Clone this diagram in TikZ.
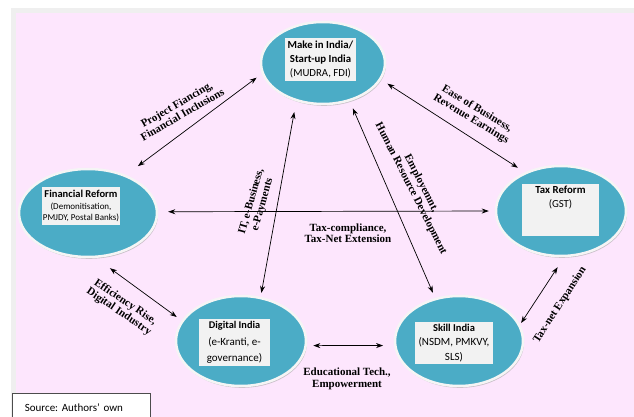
\documentclass[tikz,border=0pt]{standalone}
\usepackage{fontspec}
\setmainfont{Liberation Serif}
\newfontfamily\calfont{Carlito}
\usepackage{xcolor}
\usepackage{tikz}
\usetikzlibrary{shapes.geometric, arrows.meta, shadows}
\frenchspacing

\definecolor{bgpink}{HTML}{FDE6FD}
\definecolor{bggray}{HTML}{EFEFEF}
\definecolor{reformteal}{HTML}{4BACC6}
\definecolor{boxgray}{HTML}{F2F2F2}

\begin{document}
\begin{tikzpicture}[x=1pt, y=-1pt,
    reform/.style={ellipse, fill=reformteal, draw=gray!8, line width=2.5pt, inner sep=0pt,
        drop shadow={shadow xshift=1pt, shadow yshift=-1.8pt, fill=gray!70, opacity=0.6}},
    txtbox/.style={rectangle, fill=boxgray, inner sep=1pt, align=center, font=\calfont\fontsize{10.8}{14}\selectfont},
    link/.style={{Stealth[length=7pt,width=5pt]}-{Stealth[length=7pt,width=5pt]}, line width=0.7pt},
    tag/.style={font=\bfseries\fontsize{11}{11.5}\selectfont, align=center, inner sep=0pt},
    srcbox/.style={rectangle, draw=black!70, fill=white, line width=0.6pt, minimum height=28pt, text width=113pt,
        inner xsep=12.5pt, align=left, font=\calfont\fontsize{11}{13}\selectfont}
]

\useasboundingbox (0,0) rectangle (634,417);
\fill[bggray] (11,8) rectangle (634,417);
\fill[bgpink] (16,13) rectangle (634,417);

% Reform ellipses
\node[reform, minimum width=124pt, minimum height=82pt] (make) at (323,63) {};
\node[reform, minimum width=138pt, minimum height=88pt] (fin) at (88,213) {};
\node[reform, minimum width=130pt, minimum height=90pt] (tax) at (561,211) {};
\node[reform, minimum width=130pt, minimum height=90pt] (dig) at (241,341) {};
\node[reform, minimum width=128pt, minimum height=90pt] (skill) at (459,341) {};

% Text boxes
\node[txtbox, minimum width=71pt, minimum height=43pt] (make-txt) at (320.5,59.5)
    {\textbf{Make in India/}\\\textbf{Start-up India}\\(MUDRA, FDI)};
\node[txtbox, minimum width=71pt, minimum height=38pt, font=\calfont\fontsize{9}{11}\selectfont] (fin-txt) at (81,206)
    {\textbf{\fontsize{10.5}{12}\selectfont Financial Reform}\\[1pt](Demonitisation,\\PMJDY, Postal Banks)};
\node[txtbox, minimum width=77pt, minimum height=52pt] (tax-txt) at (560.5,210)
    {\parbox[c][48pt][t]{72pt}{\centering\textbf{Tax Reform}\\(GST)}};
\node[txtbox, minimum width=71pt, minimum height=47pt, font=\calfont\fontsize{11}{16.5}\selectfont] (dig-txt) at (234.5,342.5)
    {\textbf{\fontsize{10.3}{12}\selectfont Digital India}\\(e-Kranti, e-\\governance)};
\node[txtbox, minimum width=78pt, minimum height=42pt, font=\calfont\fontsize{11}{14.5}\selectfont] (skill-txt) at (454,343)
    {\textbf{\fontsize{10.5}{12}\selectfont Skill India}\\(NSDM, PMKVY,\\SLS)};

% Arrows
\draw[link, shorten <=14.8pt, shorten >=6.5pt] (fin.45) -- (make.190);
\draw[link, shorten <=7.5pt, shorten >=8.3pt] (make.344) -- (tax.133);
\draw[link, shorten <=10pt, shorten >=6pt] (fin.1.6) -- (tax.180);
\draw[link, shorten <=4pt, shorten >=11pt] (dig.66) -- (make.235);
\draw[link, shorten <=7.7pt, shorten >=5.7pt] (make.305) -- (skill.119);
\draw[link, shorten <=17.4pt, shorten >=6pt] (fin.280) -- (dig.161);
\draw[link, shorten <=6.4pt, shorten >=11pt] (dig.356) -- (skill.184.4);
\draw[link, shorten <=2pt, shorten >=12pt] (skill.15) -- (tax.274.5);

% Arrow labels
\node[tag, rotate=30] (t-fund) at (179.5,109.5) {Project Fiancing,\\Financial Inclusions};
\node[tag, rotate=-31] (t-ease) at (474,114) {Ease of Business,\\Revenue Earnings};
\node[tag] (t-comp) at (348,233) {Tax-compliance,\\Tax-Net Extension};
\node[tag, rotate=74] (t-it) at (257,203) {IT, e-Business,\\e-Payments};
\node[tag, rotate=-63] (t-emp) at (416,186) {Employemnt,\\Human Resource Development};
\node[tag, rotate=-34] (t-eff) at (122,307) {Efficiency Rise,\\Digital Industry};
\node[tag] (t-edu) at (347,379) {Educational Tech.,\\Empowerment};
\node[tag, rotate=57] (t-net) at (560,305) {Tax-net Expansion};

% Source
\node[srcbox, anchor=north west] (src) at (12,393) {Source: Authors’ own};

\end{tikzpicture}
\end{document}
